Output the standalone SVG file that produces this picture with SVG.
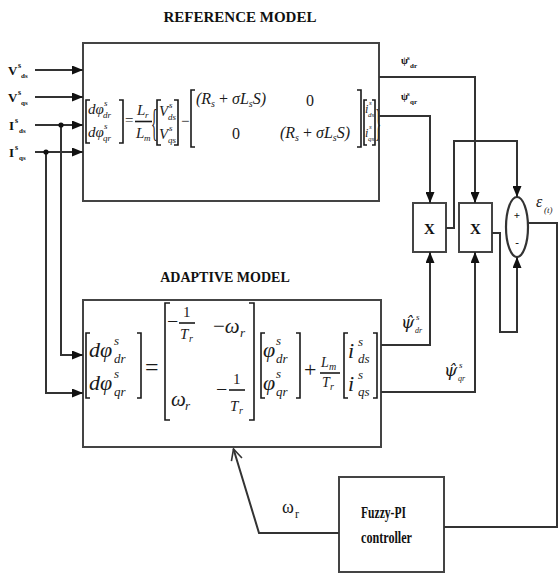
<svg xmlns="http://www.w3.org/2000/svg" width="559" height="573" viewBox="0 0 559 573">
<style>
.box{fill:#fff;stroke:#444;stroke-width:2}
.ln{fill:none;stroke:#333;stroke-width:2}
.br{fill:none;stroke:#1a1a1a;stroke-width:1.6}
.title{font-family:"Liberation Serif",serif;font-weight:bold;fill:#111}
.lab{font-family:"Liberation Serif",serif;font-weight:bold;fill:#111}
.eq{font-family:"Liberation Serif",serif;font-style:italic;fill:#1a1a1a}
.up{font-family:"Liberation Serif",serif;font-style:normal;fill:#1a1a1a}
.hat{font-family:"DejaVu Serif",serif;font-style:italic;fill:#1a1a1a}
</style>
<defs>
<marker id="ah" markerUnits="userSpaceOnUse" markerWidth="11" markerHeight="9" refX="11" refY="4.5" orient="auto">
<path d="M0,0 L11,4.5 L0,9 z" fill="#111"/>
</marker>
<marker id="oa" markerUnits="userSpaceOnUse" markerWidth="14" markerHeight="14" refX="12" refY="7" orient="auto">
<path d="M1,1.5 L12,7 L1,12.5" fill="none" stroke="#333" stroke-width="1.6"/>
</marker>
</defs>
<rect width="559" height="573" fill="#fff"/>

<text class="title" x="240" y="22" font-size="15" text-anchor="middle">REFERENCE  MODEL</text>
<text class="title" x="225" y="282" font-size="14" text-anchor="middle">ADAPTIVE MODEL</text>

<g id="inputs" class="lab">
<text x="8" y="75" font-size="13">V</text><text x="18" y="68" font-size="8">s</text><text x="21" y="78" font-size="7">ds</text>
<text x="8" y="102" font-size="13">V</text><text x="18" y="95" font-size="8">s</text><text x="21" y="105" font-size="7">qs</text>
<text x="9" y="130" font-size="13">I</text><text x="15" y="123" font-size="8">s</text><text x="19" y="133" font-size="7">ds</text>
<text x="9" y="157" font-size="13">I</text><text x="15" y="150" font-size="8">s</text><text x="19" y="160" font-size="7">qs</text>
</g>

<g id="reference-model">
<rect class="box" x="83" y="43" width="296" height="158"/>
<path class="br" d="M90,100 H86 V143 H90 M119,100 H123 V143 H119"/>
<text class="eq" x="88" y="114" font-size="15">dφ</text><text class="eq" x="104" y="106" font-size="9">s</text><text class="eq" x="103" y="118" font-size="9">dr</text>
<text class="eq" x="88" y="137" font-size="15">dφ</text><text class="eq" x="104" y="129" font-size="9">s</text><text class="eq" x="103" y="141" font-size="9">qr</text>
<text class="up" x="125" y="125" font-size="15">=</text>
<text class="eq" x="137" y="115" font-size="15">L</text><text class="eq" x="145" y="118" font-size="9">r</text>
<path class="br" d="M135,121.5 H152"/>
<text class="eq" x="136" y="138" font-size="15">L</text><text class="eq" x="144" y="141" font-size="9">m</text>
<text class="up" font-size="38" transform="translate(151,136) scale(0.35,1)">{</text>
<path class="br" d="M161,100 H157 V145 H161 M174,100 H178 V145 H174"/>
<text class="eq" x="159" y="116" font-size="15">V</text><text class="eq" x="169" y="108" font-size="9">s</text><text class="eq" x="168" y="120" font-size="9">ds</text>
<text class="eq" x="159" y="139" font-size="15">V</text><text class="eq" x="169" y="131" font-size="9">s</text><text class="eq" x="168" y="143" font-size="9">qs</text>
<text class="up" x="181" y="126" font-size="15">−</text>
<path class="br" d="M195,90 H191 V147 H195 M357,90 H361 V147 H357"/>
<text class="eq" x="196" y="104" font-size="16">(R<tspan font-size="10" dy="3">s</tspan><tspan class="up" dy="-3"> + </tspan>σL<tspan font-size="10" dy="3">s</tspan><tspan dy="-3">S)</tspan></text>
<text class="up" x="306" y="106" font-size="16">0</text>
<text class="up" x="232" y="139" font-size="16">0</text>
<text class="eq" x="280" y="138" font-size="16">(R<tspan font-size="10" dy="3">s</tspan><tspan class="up" dy="-3"> + </tspan>σL<tspan font-size="10" dy="3">s</tspan><tspan dy="-3">S)</tspan></text>
<path class="br" d="M367,100 H364 V145 H367 M372,100 H375 V145 H372"/>
<text class="eq" x="365" y="113" font-size="12">i</text><text class="eq" x="369" y="105" font-size="7">s</text><text class="eq" x="368" y="117" font-size="7">ds</text>
<text class="eq" x="365" y="137" font-size="12">i</text><text class="eq" x="369" y="129" font-size="7">s</text><text class="eq" x="368" y="141" font-size="7">qs</text>
<text class="up" font-size="38" transform="translate(375.5,136) scale(0.3,1)">}</text>
</g>

<g id="adaptive-model">
<rect class="box" x="83" y="300" width="298" height="147"/>
<path class="br" d="M90,333 H86 V398 H90 M137,333 H141 V398 H137"/>
<text class="eq" x="89" y="357" font-size="22">dφ</text><text class="eq" x="114" y="345" font-size="13">s</text><text class="eq" x="114" y="363" font-size="13">dr</text>
<text class="eq" x="89" y="390" font-size="22">dφ</text><text class="eq" x="114" y="378" font-size="13">s</text><text class="eq" x="114" y="396" font-size="13">qr</text>
<text class="up" x="145" y="375" font-size="24">=</text>
<path class="br" d="M170,303 H165 V420 H170 M249,303 H254 V420 H249"/>
<text class="up" x="167" y="328" font-size="20">−</text>
<text class="up" x="183" y="317" font-size="15">1</text>
<path class="br" d="M179,323 H195"/>
<text class="eq" x="180" y="339" font-size="15">T</text><text class="eq" x="189" y="342" font-size="10">r</text>
<text class="eq" x="213" y="333" font-size="21"><tspan class="up">−</tspan>ω</text><text class="eq" x="240" y="337" font-size="13">r</text>
<text class="eq" x="171" y="406" font-size="21">ω</text><text class="eq" x="185" y="410" font-size="13">r</text>
<text class="up" x="216" y="396" font-size="20">−</text>
<text class="up" x="233" y="384" font-size="15">1</text>
<path class="br" d="M229,390 H245"/>
<text class="eq" x="230" y="411" font-size="15">T</text><text class="eq" x="239" y="414" font-size="10">r</text>
<path class="br" d="M265,333 H261 V398 H265 M296,333 H300 V398 H296"/>
<text class="eq" x="263" y="357" font-size="22">φ</text><text class="eq" x="276" y="345" font-size="13">s</text><text class="eq" x="276" y="363" font-size="13">dr</text>
<text class="eq" x="263" y="390" font-size="22">φ</text><text class="eq" x="276" y="378" font-size="13">s</text><text class="eq" x="276" y="396" font-size="13">qr</text>
<text class="up" x="304" y="377" font-size="22">+</text>
<text class="eq" x="321" y="367" font-size="14">L</text><text class="eq" x="329" y="370" font-size="10">m</text>
<path class="br" d="M320,373 H340"/>
<text class="eq" x="322" y="387" font-size="14">T</text><text class="eq" x="330" y="390" font-size="10">r</text>
<path class="br" d="M348,333 H344 V398 H348 M373,333 H377 V398 H373"/>
<text class="eq" x="348" y="358" font-size="22">i</text><text class="eq" x="358" y="346" font-size="13">s</text><text class="eq" x="358" y="363" font-size="13">ds</text>
<text class="eq" x="348" y="391" font-size="22">i</text><text class="eq" x="358" y="379" font-size="13">s</text><text class="eq" x="358" y="396" font-size="13">qs</text>
</g>

<g id="mult1">
<rect class="box" x="413" y="203" width="33" height="49"/>
<text class="lab" x="429.5" y="234" font-size="15" text-anchor="middle">X</text>
</g>
<g id="mult2">
<rect class="box" x="459" y="203" width="33" height="49"/>
<text class="lab" x="475.5" y="234" font-size="15" text-anchor="middle">X</text>
</g>
<g id="sum">
<ellipse cx="517" cy="227" rx="11" ry="30" fill="#fff" stroke="#333" stroke-width="2.2"/>
<text class="lab" x="517" y="219" font-size="11" text-anchor="middle">+</text>
<text class="lab" x="517" y="246" font-size="11" text-anchor="middle">-</text>
</g>
<g id="fuzzy">
<rect class="box" x="339" y="477" width="105" height="95"/>
<text class="lab" x="361" y="518" font-size="16" textLength="45" lengthAdjust="spacingAndGlyphs">Fuzzy-PI</text>
<text class="lab" x="361" y="543" font-size="16" textLength="51" lengthAdjust="spacingAndGlyphs">controller</text>
</g>

<g id="connectors">
<path class="ln" d="M35,70 H83" marker-end="url(#ah)"/>
<path class="ln" d="M35,97 H83" marker-end="url(#ah)"/>
<path class="ln" d="M35,125 H83" marker-end="url(#ah)"/>
<path class="ln" d="M35,152 H83" marker-end="url(#ah)"/>
<path class="ln" d="M61,125 V355 H83" marker-end="url(#ah)"/>
<path class="ln" d="M46,152 V393 H83" marker-end="url(#ah)"/>
<circle cx="61" cy="125" r="2.6" fill="#111"/>
<circle cx="46" cy="152" r="2.6" fill="#111"/>
<path class="ln" d="M379,77 H475 V203" marker-end="url(#ah)"/>
<path class="ln" d="M379,116 H430 V203" marker-end="url(#ah)"/>
<path class="ln" d="M381,345 H430 V252" marker-end="url(#ah)"/>
<path class="ln" d="M381,392 H475 V252" marker-end="url(#ah)"/>
<path class="ln" d="M446,228 H454 V141 H517 V197" marker-end="url(#ah)"/>
<path class="ln" d="M492,233 H500 V332 H517 V257" marker-end="url(#ah)"/>
<path class="ln" d="M528,223 H557 V527 H444"/>
<path class="ln" d="M339,533 H259 L233.5,449" marker-end="url(#oa)"/>
</g>

<g id="labels">
<text class="lab" x="401" y="64" font-size="10">ψ</text><text class="lab" x="407" y="60" font-size="7">s</text><text class="lab" x="410" y="68" font-size="7">dr</text>
<text class="lab" x="401" y="100" font-size="10">ψ</text><text class="lab" x="407" y="96" font-size="7">s</text><text class="lab" x="410" y="104" font-size="7">qr</text>
<text class="hat" x="401" y="328" font-size="17">ψ̂</text><text class="eq" x="416" y="320" font-size="9">s</text><text class="eq" x="415" y="333" font-size="8">dr</text>
<text class="hat" x="444" y="376" font-size="17">ψ̂</text><text class="eq" x="459" y="368" font-size="9">s</text><text class="eq" x="458" y="381" font-size="8">qr</text>
<text class="eq" x="536" y="207" font-size="16">ε</text><text class="eq" x="544" y="213" font-size="9">(t)</text>
<text class="up" x="282" y="513" font-size="18">ω</text><text class="up" x="295" y="518" font-size="12">r</text>
</g>
</svg>
